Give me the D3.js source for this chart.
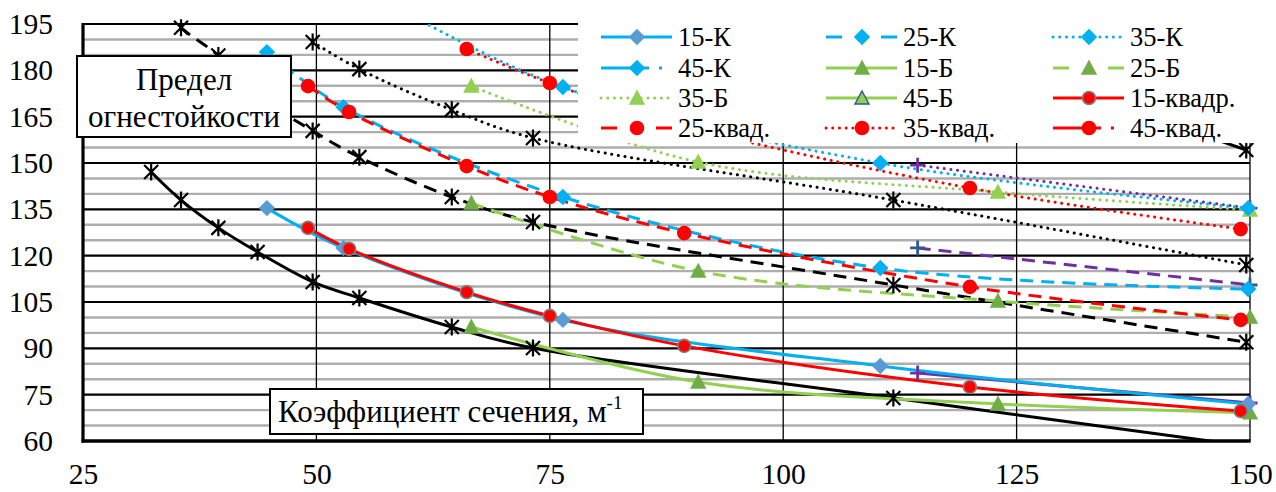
<!DOCTYPE html>
<html>
<head>
<meta charset="utf-8">
<script src="https://cdn.jsdelivr.net/npm/d3@7"></script>
<style>
  html, body { margin: 0; padding: 0; background: #fff; }
  svg { display: block; }
</style>
</head>
<body>
<svg id="chart" width="1276" height="492"></svg>
<script>
// ---- data: fire resistance limit vs section factor (m^-1) ----
// I-beam family (asterisk markers)
const xDvutavr = [32.3, 35.5, 39.5, 43.7, 49.6, 54.6, 64.5, 73.2, 111.8, 149.6];
const dv15 = [147.1, 138.0, 129.0, 121.2, 111.5, 106.3, 96.9, 90.1, 73.9, 58.4];
const dv25 = [204.0, 193.8, 184.8, 172.0, 160.4, 151.9, 139.0, 130.9, 110.5, 92.0];
const dv35 = [null, null, null, null, 189.2, 180.4, 167.2, 158.1, 138.0, 117.0];
const dv45 = [null, null, null, null, null, null, null, 212.0, 190.0, 154.2];

// round tube family ("К")
const xK = [44.7, 52.9, 76.4, 110.4, 149.8];
const k15 = [135.4, 122.5, 99.2, 84.3, 72.0];
const k25 = [185.9, 168.1, 139.0, 116.0, 109.2];
const k35 = [225.0, 210.0, 174.6, 150.0, 135.4];
const k45 = [null, null, null, null, null];

// bar family ("Б")
const xB = [66.6, 90.9, 123.0, 150.0];
const b15 = [96.9, 79.1, 72.0, 69.1];
const b25 = [137.0, 115.0, 105.3, 100.1];
const b35 = [174.9, 150.3, 140.6, 134.8];
const b45 = [null, null, null, null];

// square tube family ("квад.")
const xKv = [49.1, 53.5, 66.1, 75.0, 89.4, 120.0, 149.0];
const kv15 = [129.0, 122.2, 108.2, 100.5, 90.8, 77.5, 69.7];
const kv25 = [174.9, 166.5, 149.0, 139.0, 127.3, 109.9, 99.2];
const kv35 = [null, null, 186.9, 175.9, 162.0, 141.9, 128.6];
const kv45 = [null, null, null, null, null, null, null];

// plus-marker family
const xP = [114.4, 150.0];
const p15 = [82.0, 72.3];
const p25 = [122.5, 110.5];
const p35 = [149.3, 135.4];

const yTicks = [60, 75, 90, 105, 120, 135, 150, 165, 180, 195];
const xTicks = [25, 50, 75, 100, 125, 150];

const legendLabels = ["15-К", "25-К", "35-К", "45-К", "15-Б", "25-Б",
                      "35-Б", "45-Б", "15-квадр.", "25-квад.", "35-квад.", "45-квад."];

// ---- styling ----
const FONT = '"Liberation Serif", "Times New Roman", Times, serif';
const C = {
  cyan: "#00B0F0", steel: "#5B9BD5", lime: "#92D050", green: "#70AD47",
  red: "#FF0000", purple: "#7030A0", navy: "#2E5A8C", black: "#000000",
  gray: "#808080", dblue: "#2F5597"
};
const DASH = { solid: null, dash: "13,8", dot: "0.1,6.6", ldd: "48,10,3,10" };
const LEG_DASH = { solid: null, dash: "16,39,17", dot: "0.1,6.6", ldd: "48,10,3,20" };

const M = { left: 83, right: 1250, top: 24, bottom: 441 };
const x = d3.scaleLinear().domain([25, 150]).range([M.left, M.right]);
const y = d3.scaleLinear().domain([60, 195]).range([M.bottom, M.top]);

const mk = (xs, ys) => xs.map((v, i) => ({ x: v, y: ys[i] }));

const series = [
  { data: mk(xDvutavr, dv15), color: C.black, style: "solid", marker: "star", mc: C.black },
  { data: mk(xDvutavr, dv25), color: C.black, style: "dash", marker: "star", mc: C.black },
  { data: mk(xDvutavr, dv35), color: C.black, style: "dot", marker: "star", mc: C.black },
  { data: mk(xDvutavr, dv45), color: C.black, style: "ldd", marker: "star", mc: C.black },
  { data: mk(xP, p15), color: C.purple, style: "solid", marker: "plus", mc: C.purple },
  { data: mk(xP, p25), color: C.purple, style: "dash", marker: "plus", mc: C.navy },
  { data: mk(xP, p35), color: C.purple, style: "dot", marker: "plus", mc: C.purple },
  { data: mk(xB, b15), color: C.lime, style: "solid", marker: "tri", mc: C.green, ms: C.green, legend: 4 },
  { data: mk(xB, b25), color: C.lime, style: "dash", marker: "tri", mc: C.green, ms: C.green, legend: 5 },
  { data: mk(xB, b35), color: C.lime, style: "dot", marker: "tri", mc: C.lime, ms: C.lime, legend: 6 },
  { data: mk(xB, b45), color: C.lime, style: "solid", marker: "tri", mc: C.lime, ms: C.dblue, legend: 7 },
  { data: mk(xK, k15), color: C.cyan, style: "solid", marker: "diamond", mc: C.steel, ms: C.steel, legend: 0 },
  { data: mk(xK, k25), color: C.cyan, style: "dash", marker: "diamond", mc: C.cyan, ms: C.cyan, legend: 1 },
  { data: mk(xK, k35), color: C.cyan, style: "dot", marker: "diamond", mc: C.cyan, ms: C.cyan, legend: 2 },
  { data: mk(xK, k45), color: C.cyan, style: "ldd", marker: "diamond", mc: C.cyan, ms: C.cyan, legend: 3 },
  { data: mk(xKv, kv15), color: C.red, style: "solid", marker: "circle", mc: C.red, ms: C.gray, legend: 8 },
  { data: mk(xKv, kv25), color: C.red, style: "dash", marker: "circle", mc: C.red, ms: C.red, legend: 9 },
  { data: mk(xKv, kv35), color: C.red, style: "dot", marker: "circle", mc: C.red, ms: C.red, legend: 10 },
  { data: mk(xKv, kv45), color: C.red, style: "ldd", marker: "circle", mc: C.red, ms: C.red, legend: 11 }
];

const svg = d3.select("#chart");

// ---- grid ----
const grid = svg.append("g");
const minor = d3.range(60, 196, 5).filter(v => v % 15 !== 0);
grid.selectAll(".minor").data(minor).join("line")
  .attr("x1", M.left).attr("x2", M.right)
  .attr("y1", d => y(d)).attr("y2", d => y(d))
  .attr("stroke", "#AEAEAE").attr("stroke-width", 2.4);
grid.selectAll(".major").data(yTicks.filter(v => v > 60)).join("line")
  .attr("x1", M.left).attr("x2", M.right)
  .attr("y1", d => y(d)).attr("y2", d => y(d))
  .attr("stroke", "#000").attr("stroke-width", 2.2);
grid.selectAll(".vert").data(xTicks.filter(v => v > 25)).join("line")
  .attr("x1", d => x(d)).attr("x2", d => x(d))
  .attr("y1", M.top).attr("y2", M.bottom)
  .attr("stroke", "#000").attr("stroke-width", 1.3);

// ---- axes ----
const yAxis = svg.append("g").attr("transform", `translate(${M.left},0)`)
  .call(d3.axisLeft(y).tickValues(yTicks).tickSize(0).tickPadding(30));
const xAxis = svg.append("g").attr("transform", `translate(0,${M.bottom})`)
  .call(d3.axisBottom(x).tickValues(xTicks).tickSize(0).tickPadding(22));
[yAxis, xAxis].forEach(a => {
  a.attr("font-family", null).attr("font-size", null);
  a.select(".domain").remove();
  a.selectAll("text").style("font-family", FONT).style("font-size", "29.5px").attr("fill", "#000");
});
svg.append("line").attr("x1", M.left).attr("x2", M.left)
  .attr("y1", M.top - 1).attr("y2", M.bottom + 1.5)
  .attr("stroke", "#000").attr("stroke-width", 3.2);
svg.append("line").attr("x1", M.left - 1.5).attr("x2", M.right + 0.6)
  .attr("y1", M.bottom).attr("y2", M.bottom)
  .attr("stroke", "#000").attr("stroke-width", 3.4);

// ---- series lines ----
svg.append("clipPath").attr("id", "plotClip").append("rect")
  .attr("x", M.left).attr("y", M.top)
  .attr("width", M.right - M.left).attr("height", M.bottom - M.top);

const lineGen = d3.line()
  .defined(d => d.y != null)
  .x(d => x(d.x)).y(d => y(d.y))
  .curve(d3.curveCatmullRom.alpha(0.5));

const linesG = svg.append("g").attr("clip-path", "url(#plotClip)");
series.forEach(s => {
  linesG.append("path").datum(s.data)
    .attr("d", lineGen)
    .attr("fill", "none")
    .attr("stroke", s.color)
    .attr("stroke-width", 3)
    .attr("stroke-linecap", s.style === "dot" ? "round" : "butt")
    .attr("stroke-linejoin", "round")
    .attr("stroke-dasharray", DASH[s.style]);
});

// ---- markers ----
const SHAPES = {
  diamond: "M0,-7.2L7.2,0L0,7.2L-7.2,0Z",
  tri: "M0,-7L7,6L-7,6Z",
  star: "M-7,-7L7,7M7,-7L-7,7M0,-8.5L0,8.5",
  plus: "M-7.5,0H7.5M0,-7.5V7.5"
};
function drawMarker(g, s, cx, cy) {
  if (s.marker === "circle") {
    g.append("circle").attr("cx", cx).attr("cy", cy).attr("r", 6.5)
      .attr("fill", s.mc).attr("stroke", s.ms).attr("stroke-width", 1.6);
  } else if (s.marker === "star" || s.marker === "plus") {
    g.append("path").attr("transform", `translate(${cx},${cy})`)
      .attr("d", SHAPES[s.marker]).attr("fill", "none")
      .attr("stroke", s.mc).attr("stroke-width", s.marker === "star" ? 2.2 : 2.8);
  } else {
    g.append("path").attr("transform", `translate(${cx},${cy})`)
      .attr("d", SHAPES[s.marker]).attr("fill", s.mc)
      .attr("stroke", s.ms).attr("stroke-width", 1.4).attr("stroke-linejoin", "miter");
  }
}
const markG = svg.append("g");
series.forEach(s => {
  s.data.filter(d => d.y != null && d.y >= 60 && d.y <= 195)
    .forEach(d => drawMarker(markG, s, x(d.x), y(d.y)));
});

// ---- legend ----
const leg = svg.append("g");
leg.append("rect").attr("x", 578).attr("y", 0).attr("width", 698).attr("height", 143)
  .attr("fill", "#fff");
const colX = [601, 826, 1053];
const rowY = [37, 68, 98, 128];
series.filter(s => s.legend != null).forEach(s => {
  const i = s.legend, cx = colX[i % 3], cy = rowY[Math.floor(i / 3)];
  leg.append("line").attr("x1", cx).attr("x2", cx + 71)
    .attr("y1", cy).attr("y2", cy)
    .attr("stroke", s.color).attr("stroke-width", 3)
    .attr("stroke-linecap", s.style === "dot" ? "round" : "butt")
    .attr("stroke-dasharray", LEG_DASH[s.style]);
  drawMarker(leg, s, cx + 36, cy);
  leg.append("text").attr("x", cx + 77).attr("y", cy + 9)
    .style("font-family", FONT).style("font-size", "26.5px")
    .attr("fill", "#000").text(legendLabels[i]);
});

// ---- annotation boxes ----
const box1 = svg.append("g");
box1.append("rect").attr("x", 77).attr("y", 56).attr("width", 214).attr("height", 81)
  .attr("fill", "#fff").attr("stroke", "#000").attr("stroke-width", 2);
box1.append("text").attr("x", 184).attr("y", 90).attr("text-anchor", "middle")
  .style("font-family", FONT).style("font-size", "31px").text("Предел");
box1.append("text").attr("x", 184).attr("y", 127).attr("text-anchor", "middle")
  .style("font-family", FONT).style("font-size", "31px").text("огнестойкости");

const box2 = svg.append("g");
box2.append("rect").attr("x", 270).attr("y", 389).attr("width", 373).attr("height", 45)
  .attr("fill", "#fff").attr("stroke", "#000").attr("stroke-width", 2);
const t2 = box2.append("text").attr("x", 278).attr("y", 422)
  .style("font-family", FONT).style("font-size", "31px");
t2.append("tspan").text("Коэффициент сечения, м");
t2.append("tspan").style("font-size", "19px").attr("dy", -13).text("-1");
</script>
</body>
</html>
